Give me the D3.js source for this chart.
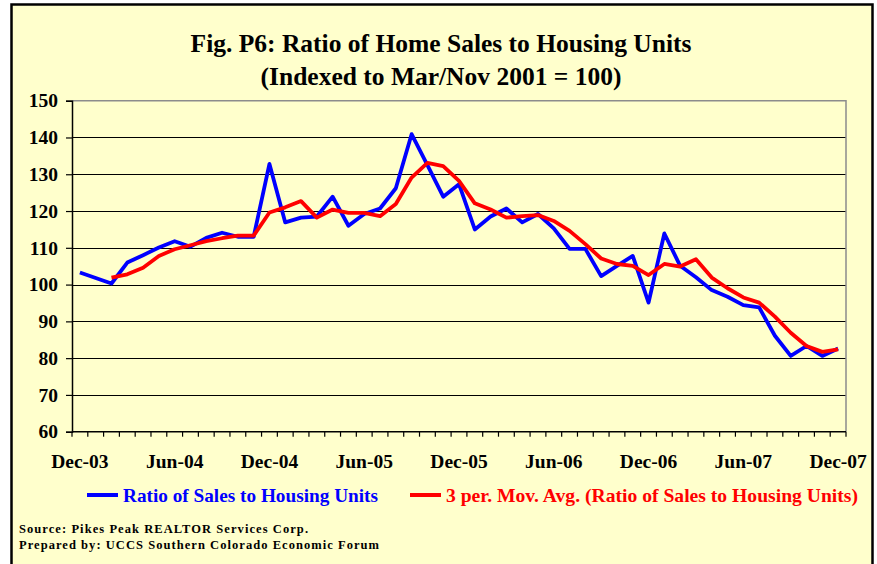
<!DOCTYPE html>
<html>
<head>
<meta charset="utf-8">
<script src="https://cdn.jsdelivr.net/npm/d3@7"></script>
<style>
  body { margin: 0; background: #fff; }
  svg text { font-family: "Liberation Serif", "Times New Roman", serif; font-weight: bold; }
</style>
</head>
<body>
<div id="chart"></div>
<script>
// Monthly categories Dec-03 .. Dec-07
const months = d3.utcMonth.range(new Date(Date.UTC(2003, 11, 1)), new Date(Date.UTC(2008, 0, 1)));
const tickLabels = ["Dec-03", "Jun-04", "Dec-04", "Jun-05", "Dec-05", "Jun-06", "Dec-06", "Jun-07", "Dec-07"];
const yTicks = [60, 70, 80, 90, 100, 110, 120, 130, 140, 150];

// Ratio of Sales to Housing Units (index)
const ratio = [
  103.3, 101.8, 100.3, 106.0, 108.0, 110.1, 111.8, 110.3, 112.7, 114.1, 113.0, 113.0,
  132.8, 116.9, 118.2, 118.5, 123.9, 116.0, 119.2, 120.7, 126.2, 140.9, 132.5, 123.9,
  127.3, 115.0, 118.5, 120.7, 116.9, 119.2, 115.3, 109.7, 109.7, 102.3, 105.1, 107.8,
  95.1, 113.9, 105.1, 102.0, 98.5, 96.7, 94.4, 93.8, 86.1, 80.6, 83.3, 80.6,
  82.6
];

// 3 per. moving average, as drawn (starts at third month)
const movAvg = [
  null, null, 101.9, 102.8, 104.6, 107.8, 109.6, 110.7, 111.8, 112.6, 113.3, 113.3,
  119.6, 121.0, 122.7, 118.2, 120.4, 119.5, 119.5, 118.6, 121.9, 129.1, 133.1, 132.2,
  128.2, 122.1, 120.4, 118.2, 118.6, 118.9, 117.3, 114.6, 111.0, 107.1, 105.6, 105.1,
  102.6, 105.6, 104.9, 106.9, 101.9, 99.0, 96.5, 95.1, 91.3, 86.9, 83.3, 81.7,
  82.4
];

const width = 877, height = 564;
const plot = { left: 72, right: 846, top: 100.7, bottom: 431.7 };
const fmt = d3.utcFormat("%b-%y");

const svg = d3.select("#chart").append("svg")
  .attr("width", width)
  .attr("height", height);

// Chart area with border
svg.append("rect")
  .attr("x", 11.5).attr("y", 4.5)
  .attr("width", 861).attr("height", 575)
  .attr("fill", "#FFFFCC")
  .attr("stroke", "#000")
  .attr("stroke-width", 2.5);

// Title
const title = svg.append("text")
  .attr("text-anchor", "middle")
  .style("font-size", "25.5px")
  .attr("fill", "#000");
title.append("tspan").attr("x", 441).attr("y", 52).text("Fig. P6: Ratio of Home Sales to Housing Units");
title.append("tspan").attr("x", 441).attr("y", 85).text("(Indexed to Mar/Nov 2001 = 100)");

// Scales
const x = d3.scaleBand()
  .domain(months.map(d => +d))
  .range([plot.left, plot.right])
  .paddingInner(0).paddingOuter(0);
const cx = i => x(+months[i]) + x.bandwidth() / 2;

const y = d3.scaleLinear()
  .domain([60, 150])
  .range([plot.bottom, plot.top]);

// Gridlines
svg.append("g")
  .selectAll("line")
  .data(yTicks.filter(v => v > 60 && v < 150))
  .enter().append("line")
  .attr("x1", plot.left).attr("x2", plot.right)
  .attr("y1", d => Math.round(y(d)) + 0.5).attr("y2", d => Math.round(y(d)) + 0.5)
  .attr("stroke", "#000").attr("stroke-width", 1);

// Plot area border (top and right are gray)
svg.append("path")
  .attr("d", `M${plot.left},${plot.top}H${plot.right}V${plot.bottom}`)
  .attr("fill", "none")
  .attr("stroke", "#8c8c8c")
  .attr("stroke-width", 1.5);

// Y axis
const yAxis = svg.append("g")
  .attr("transform", `translate(${plot.left},0)`)
  .call(d3.axisLeft(y).tickValues(yTicks).tickSize(6).tickPadding(8));
yAxis.select(".domain").attr("stroke", "#000").attr("stroke-width", 1.5);
yAxis.selectAll(".tick line").attr("stroke", "#000").attr("stroke-width", 1.2);
yAxis.selectAll(".tick text")
  .style("font-size", "19.5px")
  .style("font-family", "'Liberation Serif', 'Times New Roman', serif")
  .style("font-weight", "bold")
  .attr("fill", "#000");

// X axis: baseline, ticks at category boundaries
const xg = svg.append("g");
xg.append("line")
  .attr("x1", plot.left).attr("x2", plot.right)
  .attr("y1", plot.bottom).attr("y2", plot.bottom)
  .attr("stroke", "#000").attr("stroke-width", 1.5);
const boundaries = months.map(d => x(+d)).concat([plot.right]);
xg.selectAll(".xtick")
  .data(boundaries)
  .enter().append("line")
  .attr("class", "xtick")
  .attr("x1", d => d).attr("x2", d => d)
  .attr("y1", plot.bottom).attr("y2", plot.bottom + 5)
  .attr("stroke", "#000").attr("stroke-width", 1.2);

xg.selectAll(".xlabel")
  .data(months.filter(d => tickLabels.includes(fmt(d))))
  .enter().append("text")
  .attr("class", "xlabel")
  .attr("x", d => x(+d) + x.bandwidth() / 2)
  .attr("y", 468)
  .attr("text-anchor", "middle")
  .style("font-size", "19.5px")
  .text(d => fmt(d));

// Lines
const line = d3.line()
  .defined(d => d.v != null)
  .x(d => cx(d.i))
  .y(d => y(d.v));

svg.append("path")
  .datum(ratio.map((v, i) => ({ i, v })))
  .attr("d", line)
  .attr("fill", "none")
  .attr("stroke", "#0000FF")
  .attr("stroke-width", 3.8)
  .attr("stroke-linejoin", "round");

svg.append("path")
  .datum(movAvg.map((v, i) => ({ i, v })))
  .attr("d", line)
  .attr("fill", "none")
  .attr("stroke", "#FF0000")
  .attr("stroke-width", 3.8)
  .attr("stroke-linejoin", "round");

// Legend
const legend = [
  { label: "Ratio of Sales to Housing Units", color: "#0000FF", x: 87, len: 255 },
  { label: "3 per. Mov. Avg. (Ratio of Sales to Housing Units)", color: "#FF0000", x: 410, len: 412 }
];
const lg = svg.append("g");
legend.forEach(d => {
  lg.append("line")
    .attr("x1", d.x).attr("x2", d.x + 31)
    .attr("y1", 495).attr("y2", 495)
    .attr("stroke", d.color).attr("stroke-width", 4);
  lg.append("text")
    .attr("x", d.x + 36).attr("y", 502)
    .attr("fill", d.color)
    .style("font-size", "19.5px")
    .attr("textLength", d.len).attr("lengthAdjust", "spacingAndGlyphs")
    .text(d.label);
});

// Source notes
svg.append("text")
  .attr("x", 19).attr("y", 533)
  .style("font-size", "12.5px")
  .attr("textLength", 289).attr("lengthAdjust", "spacing")
  .text("Source: Pikes Peak REALTOR Services Corp.");
svg.append("text")
  .attr("x", 19).attr("y", 549)
  .style("font-size", "12.5px")
  .attr("textLength", 360).attr("lengthAdjust", "spacing")
  .text("Prepared by: UCCS Southern Colorado Economic Forum");
</script>
</body>
</html>
